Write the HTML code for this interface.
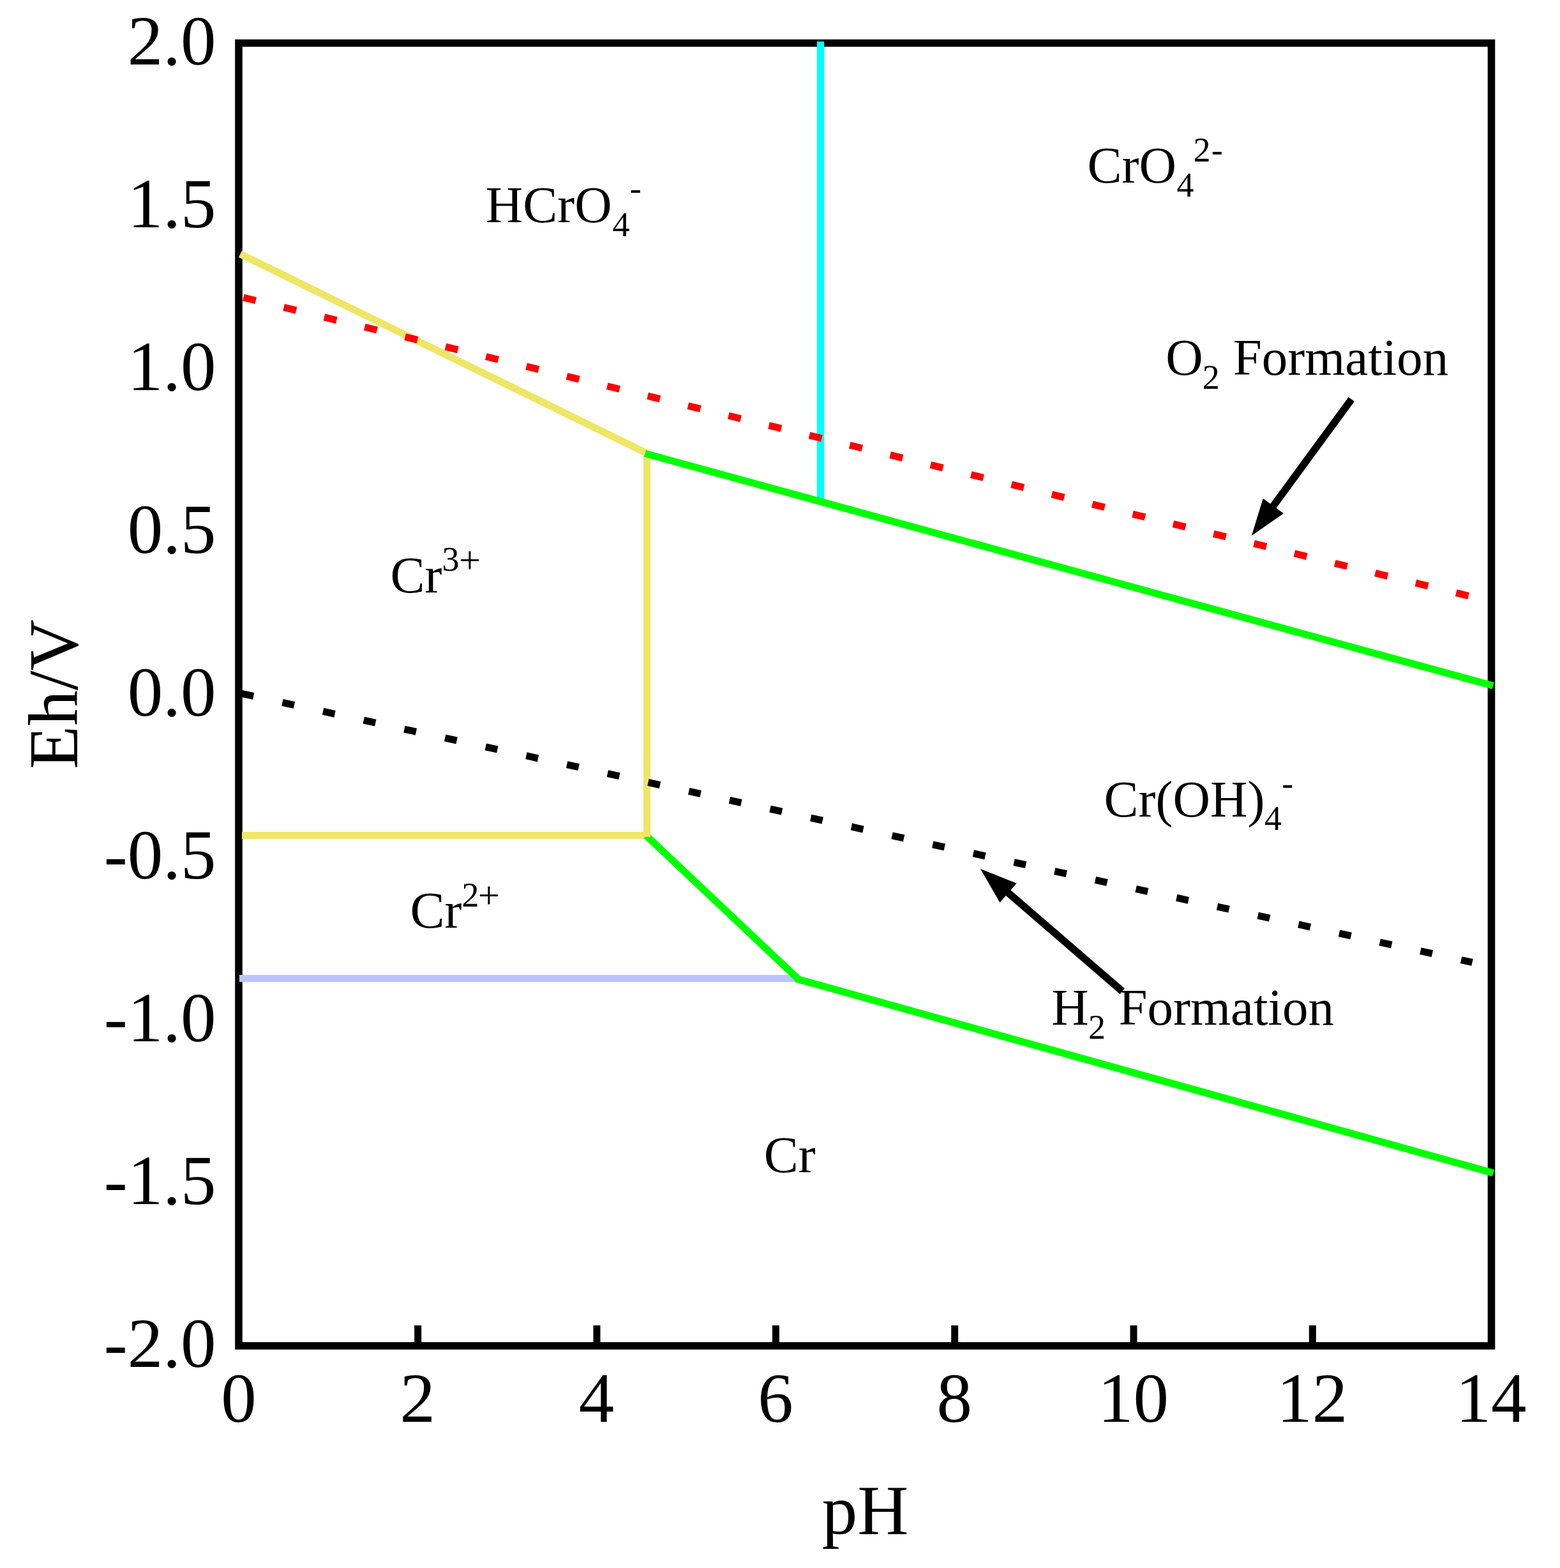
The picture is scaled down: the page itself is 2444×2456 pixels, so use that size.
<!DOCTYPE html>
<html><head><meta charset="utf-8"><title>Eh-pH diagram of Cr</title>
<style>html,body{margin:0;padding:0;background:#fff;} svg{display:block;}</style>
</head><body>
<svg width="2444" height="2456" viewBox="0 0 2444 2456" font-family='"Liberation Serif", "Times New Roman", serif' fill="#000">
<rect x="0" y="0" width="2444" height="2456" fill="#fff"/>
<rect x="374.0" y="67.5" width="1962.5" height="2040.5" fill="none" stroke="#000" stroke-width="11.6"/>
<line x1="654.7" y1="2076" x2="654.7" y2="2108.0" stroke="#000" stroke-width="11"/>
<line x1="935.0" y1="2076" x2="935.0" y2="2108.0" stroke="#000" stroke-width="11"/>
<line x1="1215.4" y1="2076" x2="1215.4" y2="2108.0" stroke="#000" stroke-width="11"/>
<line x1="1495.7" y1="2076" x2="1495.7" y2="2108.0" stroke="#000" stroke-width="11"/>
<line x1="1776.0" y1="2076" x2="1776.0" y2="2108.0" stroke="#000" stroke-width="11"/>
<line x1="2056.3" y1="2076" x2="2056.3" y2="2108.0" stroke="#000" stroke-width="11"/>
<line x1="375" y1="1532.5" x2="1247" y2="1532.5" stroke="#B9C5FC" stroke-width="11.2" />
<line x1="379" y1="1308.5" x2="1019" y2="1308.5" stroke="#EEE665" stroke-width="11.2" />
<line x1="1012.5" y1="1308.85" x2="1250.2" y2="1533.1" stroke="#00FF00" stroke-width="11.2" />
<line x1="1246.7" y1="1532.8" x2="2339.5" y2="1837.3" stroke="#00FF00" stroke-width="11.2" />
<line x1="376.4" y1="397.9" x2="1012.5" y2="709.5" stroke="#EEE665" stroke-width="11.2" />
<line x1="1013.5" y1="710" x2="1013.5" y2="1310.8" stroke="#EEE665" stroke-width="11.2" />
<line x1="1285.5" y1="65" x2="1285.5" y2="781" stroke="#00FFFF" stroke-width="11.2" />
<line x1="1010.5" y1="710.3" x2="2339.3" y2="1074.2" stroke="#00FF00" stroke-width="11.2" />
<line x1="381.3" y1="466.0" x2="2300.7" y2="933.3" stroke="#FF0000" stroke-width="11" stroke-dasharray="20 45.18"/>
<line x1="378.7" y1="1086.4" x2="2306.6" y2="1507.4" stroke="#000" stroke-width="11" stroke-dasharray="19 46.18"/>
<line x1="2117.3" y1="625.4" x2="1993.7" y2="794.1" stroke="#000" stroke-width="11.5"/>
<polygon points="1960.9,838.9 1978.7,780.7 2011.0,804.3" fill="#000"/>
<line x1="1758.2" y1="1552.6" x2="1578.0" y2="1397.2" stroke="#000" stroke-width="11.5"/>
<polygon points="1536.0,1361.0 1592.6,1383.4 1566.5,1413.7" fill="#000"/>
<text x="338.5" y="100.9" font-size="111" text-anchor="end">2.0</text>
<text x="338.5" y="356.0" font-size="111" text-anchor="end">1.5</text>
<text x="338.5" y="611.0" font-size="111" text-anchor="end">1.0</text>
<text x="338.5" y="866.1" font-size="111" text-anchor="end">0.5</text>
<text x="338.5" y="1121.2" font-size="111" text-anchor="end">0.0</text>
<text x="338.5" y="1376.2" font-size="111" text-anchor="end">-0.5</text>
<text x="338.5" y="1631.3" font-size="111" text-anchor="end">-1.0</text>
<text x="338.5" y="1886.3" font-size="111" text-anchor="end">-1.5</text>
<text x="338.5" y="2141.4" font-size="111" text-anchor="end">-2.0</text>
<text x="373.9" y="2227" font-size="111" text-anchor="middle">0</text>
<text x="654.2" y="2227" font-size="111" text-anchor="middle">2</text>
<text x="934.5" y="2227" font-size="111" text-anchor="middle">4</text>
<text x="1214.9" y="2227" font-size="111" text-anchor="middle">6</text>
<text x="1495.2" y="2227" font-size="111" text-anchor="middle">8</text>
<text x="1775.5" y="2227" font-size="111" text-anchor="middle">10</text>
<text x="2055.8" y="2227" font-size="111" text-anchor="middle">12</text>
<text x="2336.1" y="2227" font-size="111" text-anchor="middle">14</text>
<text x="1355.5" y="2402.8" font-size="111" text-anchor="middle">pH</text>
<text transform="translate(121,1087.5) rotate(-90)" x="0" y="0" font-size="111" text-anchor="middle">Eh/V</text>
<text><tspan x="760.8" y="347.7" font-size="81">HCrO</tspan><tspan x="959.6" y="369.7" font-size="54">4</tspan><tspan x="986.8" y="312.9" font-size="54">-</tspan></text>
<text><tspan x="1703.5" y="285.9" font-size="81">CrO</tspan><tspan x="1843.6" y="307.9" font-size="54">4</tspan><tspan x="1869.6" y="253.1" font-size="54">2</tspan><tspan x="1897.7" y="253.3" font-size="54">-</tspan></text>
<text><tspan x="611.5" y="927.8" font-size="81">Cr</tspan><tspan x="692.4" y="894.3" font-size="54">3</tspan><tspan x="719.0" y="896.9" font-size="60">+</tspan></text>
<text><tspan x="642.6" y="1452.9" font-size="81">Cr</tspan><tspan x="723.5" y="1419.8" font-size="54">2</tspan><tspan x="749.0" y="1421.8" font-size="60">+</tspan></text>
<text><tspan x="1729.5" y="1278.9" font-size="81">Cr(OH)</tspan><tspan x="1980.9" y="1299.8" font-size="54">4</tspan><tspan x="2008.3" y="1244.7" font-size="54">-</tspan></text>
<text><tspan x="1196.7" y="1835.8" font-size="81">Cr</tspan></text>
<text><tspan x="1826.2" y="587.4" font-size="81">O</tspan><tspan x="1883.7" y="608.6" font-size="54">2 </tspan><tspan x="1931.7" y="587.4" font-size="81">Formation</tspan></text>
<text><tspan x="1647.2" y="1605.4" font-size="81">H</tspan><tspan x="1705.0" y="1626.9" font-size="54">2 </tspan><tspan x="1752.5" y="1605.4" font-size="81">Formation</tspan></text>
</svg>
</body></html>
